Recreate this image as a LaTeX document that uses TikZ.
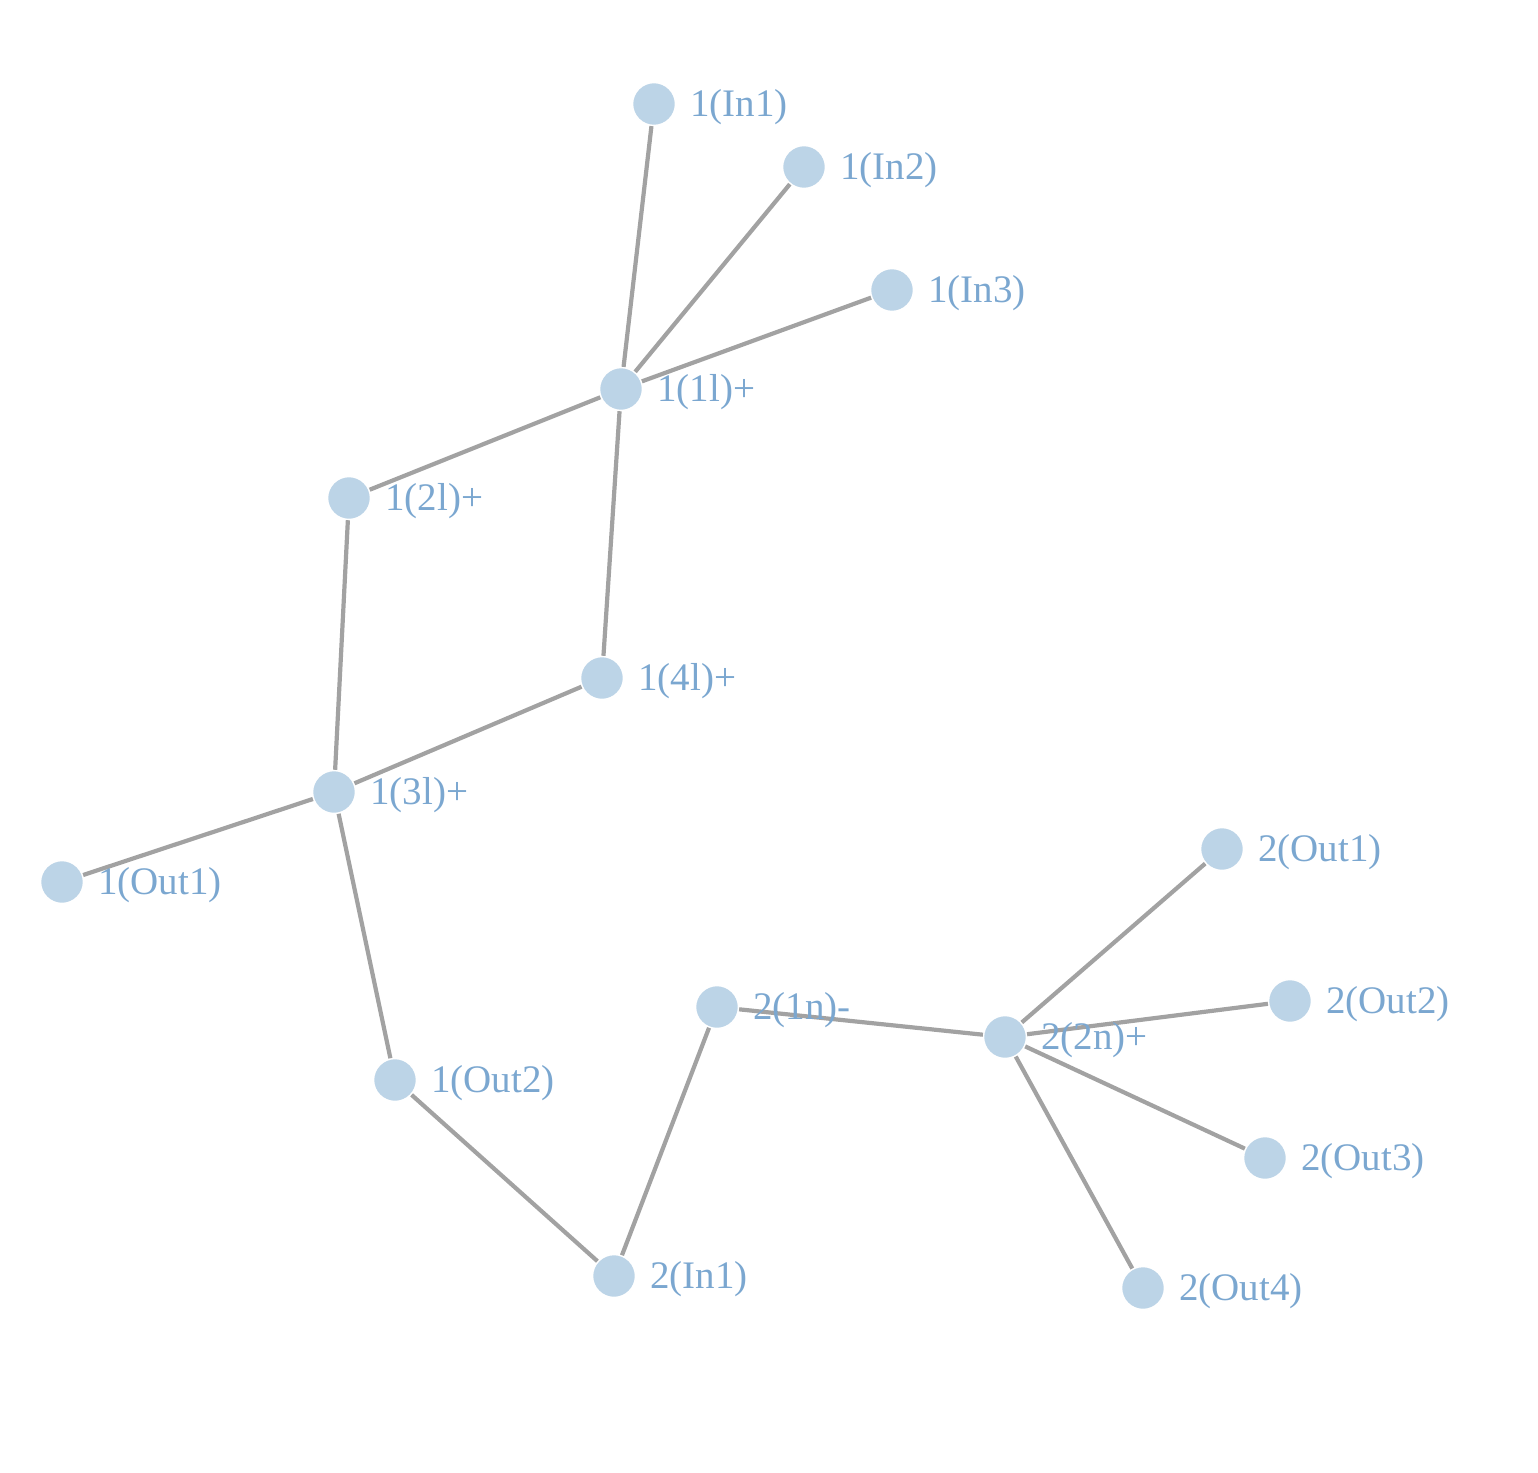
\documentclass[tikz,border=0pt]{standalone}
\usepackage{fontspec}
\setmainfont{Liberation Serif}
\definecolor{nodefill}{HTML}{BCD4E7}
\definecolor{edgecol}{HTML}{A2A2A2}
\definecolor{labcol}{HTML}{7BA7D0}
\begin{document}
\begin{tikzpicture}[x=1pt,y=-1pt,
  vert/.style={circle,fill=nodefill,draw=white,line width=1.5pt,minimum size=43pt,inner sep=0pt},
  lab/.style={anchor=west,inner sep=0pt,text=labcol,font=\fontsize{39}{41}\selectfont},
  edge/.style={draw=edgecol,line width=4.2pt}]
\useasboundingbox (0,0) rectangle (1538,1472);
\node[vert] (in1) at (654,104) {};
\node[vert] (in2) at (804,167) {};
\node[vert] (in3) at (892,290) {};
\node[vert] (l1) at (621,389) {};
\node[vert] (l2) at (349,498) {};
\node[vert] (l4) at (602,678) {};
\node[vert] (l3) at (334,792) {};
\node[vert] (out1) at (62,882) {};
\node[vert] (out2) at (395,1080) {};
\node[vert] (tin1) at (614,1276) {};
\node[vert] (n1) at (717,1007) {};
\node[vert] (n2) at (1005,1037) {};
\node[vert] (tout1) at (1222,849) {};
\node[vert] (tout2) at (1290,1001) {};
\node[vert] (tout3) at (1265,1158) {};
\node[vert] (tout4) at (1143,1288) {};
\foreach \a/\b in {in1/l1,in2/l1,in3/l1,l1/l2,l1/l4,l2/l3,l4/l3,l3/out1,l3/out2,out2/tin1,tin1/n1,n1/n2,n2/tout1,n2/tout2,n2/tout3,n2/tout4}
  \path[edge] (\a) -- (\b);
\node[lab] (lin1) at ([xshift=36pt,yshift=-3pt]in1.center) {1(In1)};
\node[lab] (lin2) at ([xshift=36pt,yshift=-3pt]in2.center) {1(In2)};
\node[lab] (lin3) at ([xshift=36pt,yshift=-3pt]in3.center) {1(In3)};
\node[lab] (ll1) at ([xshift=36pt,yshift=-3pt]l1.center) {1(1l)+};
\node[lab] (ll2) at ([xshift=36pt,yshift=-3pt]l2.center) {1(2l)+};
\node[lab] (ll4) at ([xshift=36pt,yshift=-3pt]l4.center) {1(4l)+};
\node[lab] (ll3) at ([xshift=36pt,yshift=-3pt]l3.center) {1(3l)+};
\node[lab] (lout1) at ([xshift=36pt,yshift=-3pt]out1.center) {1(Out1)};
\node[lab] (lout2) at ([xshift=36pt,yshift=-3pt]out2.center) {1(Out2)};
\node[lab] (ltin1) at ([xshift=36pt,yshift=-3pt]tin1.center) {2(In1)};
\node[lab] (ln1) at ([xshift=36pt,yshift=-3pt]n1.center) {2(1n)-};
\node[lab] (ln2) at ([xshift=36pt,yshift=-3pt]n2.center) {2(2n)+};
\node[lab] (ltout1) at ([xshift=36pt,yshift=-3pt]tout1.center) {2(Out1)};
\node[lab] (ltout2) at ([xshift=36pt,yshift=-3pt]tout2.center) {2(Out2)};
\node[lab] (ltout3) at ([xshift=36pt,yshift=-3pt]tout3.center) {2(Out3)};
\node[lab] (ltout4) at ([xshift=36pt,yshift=-3pt]tout4.center) {2(Out4)};
\end{tikzpicture}
\end{document}
